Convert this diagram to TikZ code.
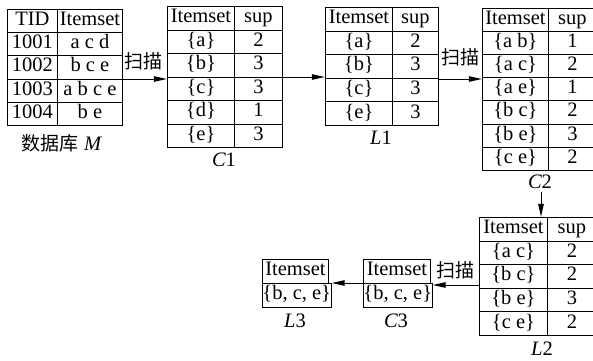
\documentclass[tikz,border=0pt]{standalone}
\usepackage{fontspec}
\setmainfont{Liberation Serif}
\newfontfamily\cjk{Noto Sans CJK SC}
\usetikzlibrary{arrows.meta,fit}
\tikzset{
  cell/.style={draw, line width=0.9pt, inner sep=0pt, anchor=north west, text height=13pt, text depth=4pt, font=\fontsize{20.5}{22}\selectfont},
  tbl/.style={inner sep=0pt, draw=none},
  arr/.style={line width=1pt, -{Triangle[length=13pt,width=5.5pt]}},
  lbl/.style={font=\fontsize{20.5}{22}\selectfont\itshape},
  scan/.style={font=\cjk\fontsize{19}{21}\selectfont, inner sep=0pt}
}
% \mktable{name}{x0}{y0}{xdiv}{x1}{rowheight}{list of left/right}
\newcommand{\mktable}[7]{%
  \foreach [count=\i from 0] \a/\b in {#7} {%
    \pgfmathsetmacro{\yy}{#3+\i*#6}%
    \node[cell, minimum width={(#4-#2)*1pt}, minimum height={#6*1pt}] (#1-\i-l) at (#2,\yy) {\a};
    \node[cell, minimum width={(#5-#4)*1pt}, minimum height={#6*1pt}] (#1-\i-r) at (#4,\yy) {\b};
  }%
}
\begin{document}
\begin{tikzpicture}[x=1pt,y=-1pt]
\useasboundingbox (0,0) rectangle (593,360);
% database M
\mktable{M}{7}{9}{57}{122}{23.2}{TID/Itemset,1001/a c d,1002/b c e,1003/a b c e,1004/b e}
\node[tbl, fit=(M-0-l)(M-4-r)] (M) {};
\node[font=\fontsize{20.5}{22}\selectfont] (Mlbl) at (62,143) {{\cjk\fontsize{19}{21}\selectfont 数据库} \textit{M}};
% C1
\mktable{C1}{167}{6}{234}{282}{23.5}{Itemset/sup,\{a\}/2,\{b\}/3,\{c\}/3,\{d\}/1,\{e\}/3}
\node[tbl, fit=(C1-0-l)(C1-5-r)] (C1) {};
\node[lbl] (C1lbl) at (224,160) {C\upshape 1};
% L1
\mktable{L1}{325}{7}{392}{438}{23.6}{Itemset/sup,\{a\}/2,\{b\}/3,\{c\}/3,\{e\}/3}
\node[tbl, fit=(L1-0-l)(L1-4-r)] (L1) {};
\node[lbl] (L1lbl) at (381,138) {L\upshape 1};
% C2
\mktable{C2}{482}{8}{548}{596}{23.1}{Itemset/sup,\{a b\}/1,\{a c\}/2,\{a e\}/1,\{b c\}/2,\{b e\}/3,\{c e\}/2}
\node[tbl, fit=(C2-0-l)(C2-6-r)] (C2) {};
\node[lbl] (C2lbl) at (540,182) {C\upshape 2};
% L2
\mktable{L2}{479}{217}{547}{596}{23.6}{Itemset/sup,\{a c\}/2,\{b c\}/2,\{b e\}/3,\{c e\}/2}
\node[tbl, fit=(L2-0-l)(L2-4-r)] (L2) {};
\node[lbl] (L2lbl) at (542,349) {L\upshape 2};
% C3
\node[cell, minimum width=67pt, minimum height=24pt] (C3-0) at (363,259) {Itemset};
\node[cell, minimum width=67pt, minimum height=24pt] (C3-1) at (363,283) {\{b, c, e\}};
\node[tbl, fit=(C3-0)(C3-1)] (C3) {};
\node[lbl] (C3lbl) at (396,321) {C\upshape 3};
% L3
\node[cell, minimum width=66pt, minimum height=24pt] (L3-0) at (262,259) {Itemset};
\node[cell, minimum width=66pt, minimum height=24pt] (L3-1) at (262,283) {\{b, c, e\}};
\node[tbl, fit=(L3-0)(L3-1)] (L3) {};
\node[lbl] (L3lbl) at (295,321) {L\upshape 3};
% arrows
\coordinate (a1) at (M.east |- 0,79);
\draw[arr] (a1) -- (a1 -| C1.west);
\node[scan] (s1) at (143.5,61) {扫描};
\coordinate (a2) at (C1.east |- 0,77);
\draw[arr] (a2) -- (a2 -| L1.west);
\coordinate (a3) at (L1.east |- 0,79);
\draw[arr] (a3) -- (a3 -| C2.west);
\node[scan] (s2) at (460,57) {扫描};
\coordinate (a4) at (541,192);
\draw[arr] (a4) -- (a4 |- L2.north);
\coordinate (a5) at (L2.west |- 0,285);
\draw[arr] (a5) -- (a5 -| C3.east);
\node[scan] (s3) at (455,270) {扫描};
\coordinate (a6) at (C3.west |- 0,283);
\draw[arr] (a6) -- (a6 -| L3.east);
\end{tikzpicture}
\end{document}
